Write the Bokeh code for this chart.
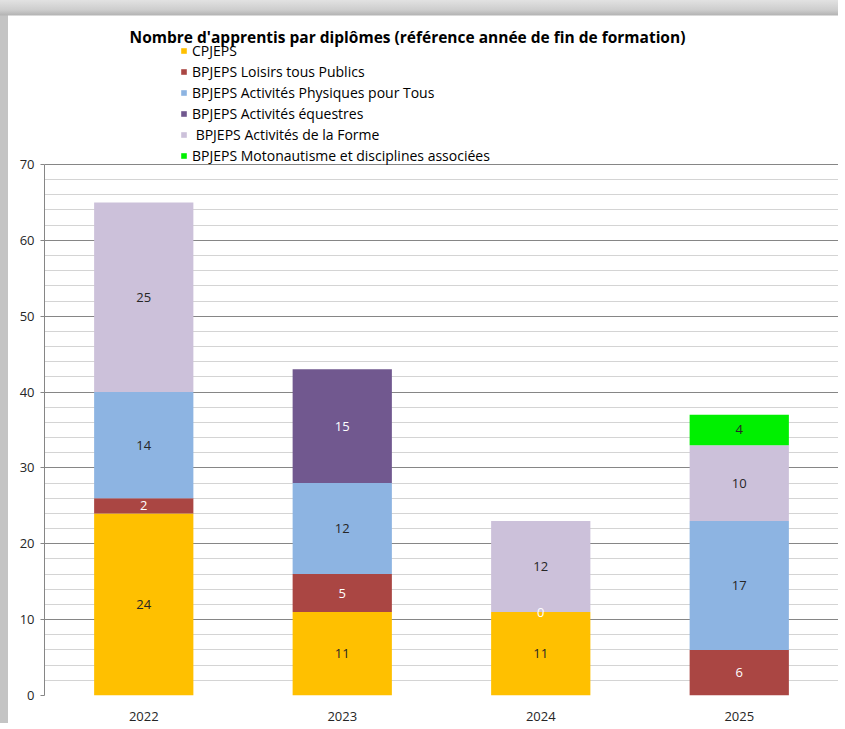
from bokeh.plotting import figure
from bokeh.models import (ColumnDataSource, FactorRange, Range1d, FixedTicker, Legend, LegendItem,
                          LabelSet, Label)
from bokeh.core.properties import value
from bokeh.embed import file_html
from bokeh.resources import INLINE

years = ["2022", "2023", "2024", "2025"]
series_names = ["CPJEPS", "BPJEPS Loisirs tous Publics", "BPJEPS Activités Physiques pour Tous",
                "BPJEPS Activités équestres", "\u00a0BPJEPS Activités de la Forme",
                "BPJEPS Motonautisme et disciplines associées"]
cpjeps = [24, 11, 11, None]
loisirs = [2, 5, 0, 6]
apt = [14, 12, None, 17]
equestres = [None, 15, None, None]
forme = [25, None, 12, 10]
moto = [None, None, None, 4]
colors = ["#FFC000", "#AA4643", "#8DB4E2", "#71588F", "#CCC1DA", "#00F000"]
label_colors = ["#262626", "#FFFFFF", "#262626", "#FFFFFF", "#262626", "#262626"]
title_text = "Nombre d'apprentis par diplômes (référence année de fin de formation)"

series = [cpjeps, loisirs, apt, equestres, forme, moto]
keys = ["s%d" % i for i in range(len(series))]
data = {"years": years}
for k, s in zip(keys, series):
    data[k] = [v if v is not None else 0 for v in s]
source = ColumnDataSource(data)

FONT = "Open Sans"
PX_PER_UNIT = 7.586
FRAME_H = 679

p = figure(x_range=FactorRange(*years), y_range=Range1d(0, FRAME_H / PX_PER_UNIT),
           frame_width=794, frame_height=FRAME_H, output_backend="svg", toolbar_location=None,
           min_border_left=44, min_border_right=0, min_border_top=16, min_border_bottom=0)
p.outline_line_color = None
p.background_fill_color = "white"
p.border_fill_color = None

renderers = p.vbar_stack(keys, x="years", width=0.5, color=colors, source=source, line_color=None)

# labels
lx, ly, lt, lc = [], [], [], []
for i, yr in enumerate(years):
    base = 0
    for s, col in zip(series, label_colors):
        v = s[i]
        if v is None:
            continue
        lx.append(yr)
        ly.append(base + v / 2)
        lt.append(str(v))
        lc.append(col)
        base += v
lsrc = ColumnDataSource(dict(x=lx, y=ly, t=lt, c=lc))
p.add_layout(LabelSet(x="x", y="y", text="t", source=lsrc, text_color="c", text_align="center",
                      text_baseline="middle", text_font=value(FONT), text_font_size="13px"))

# axes
p.yaxis.bounds = (0, 70)
p.yaxis.ticker = FixedTicker(ticks=list(range(0, 71, 10)), minor_ticks=list(range(0, 71, 2)))
p.yaxis.axis_line_color = "#868686"
p.yaxis.major_tick_line_color = "#868686"
p.yaxis.major_tick_out = 4
p.yaxis.major_tick_in = 0
p.yaxis.minor_tick_line_color = None
p.yaxis.major_label_standoff = 6
p.yaxis.major_label_text_font = FONT
p.yaxis.major_label_text_font_size = "13px"
p.yaxis.major_label_text_color = "#262626"

p.xaxis.axis_line_color = None
p.xaxis.major_tick_line_color = None
p.xaxis.minor_tick_line_color = None
p.xaxis.major_label_standoff = 10
p.xaxis.major_label_text_font = FONT
p.xaxis.major_label_text_font_size = "13px"
p.xaxis.major_label_text_color = "#262626"

p.xgrid.grid_line_color = None
p.ygrid.grid_line_color = "#868686"
p.ygrid.minor_grid_line_color = "#D4D4D4"

# title
p.add_layout(Label(x=363, y=695 - 36, x_units="screen", y_units="screen", text=title_text,
                   text_align="center", text_baseline="middle", text_font=FONT,
                   text_font_size="15.5px", text_font_style="bold", text_color="#000000"))

legend = Legend(items=[LegendItem(label=n, renderers=[r]) for n, r in zip(series_names, renderers)],
                location=(136, 655 - 125), orientation="vertical", padding=0, margin=0,
                glyph_width=7, glyph_height=7, label_height=20, spacing=1, label_standoff=5,
                label_text_font=FONT, label_text_font_size="14px", label_text_color="#000000",
                background_fill_alpha=0, border_line_color=None)
p.add_layout(legend, "center")

p.styles = {"background": "linear-gradient(to bottom, #e2e2e2 0px, #cdcdcd 10px, #b4b4b4 15px, rgba(255,255,255,0) 16px), "
                          "linear-gradient(to right, #c4c4c4 0px, #c4c4c4 8px, #ffffff 8px)"}

open("out.html", "w").write(file_html(p, INLINE))
